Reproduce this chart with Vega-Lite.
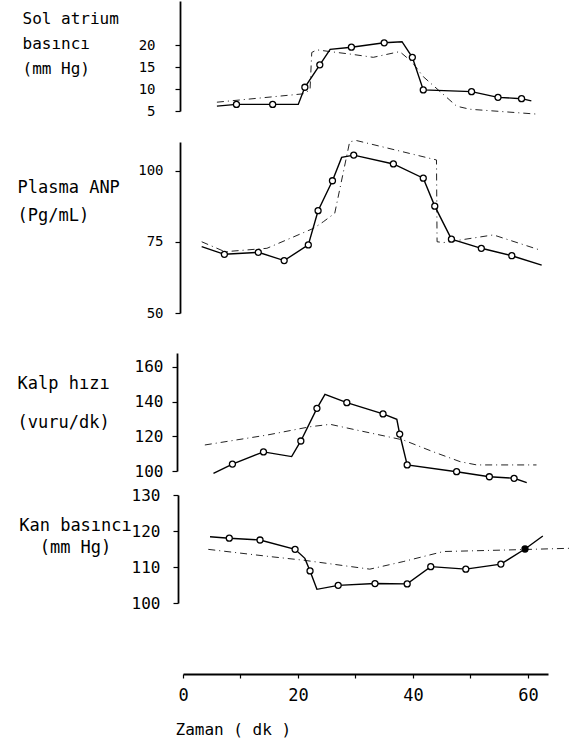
{
  "$schema": "https://vega.github.io/schema/vega-lite/v6.json",
  "width": 365,
  "height": 674,
  "autosize": {"type": "none"},
  "padding": {"left": 183, "top": 0, "right": 37, "bottom": 72},
  "background": "white",
  "config": {
    "view": {"stroke": null},
    "font": "DejaVu Sans Mono",
    "axis": {
      "labelFont": "DejaVu Sans Mono",
      "titleFont": "DejaVu Sans Mono",
      "domainColor": "black",
      "tickColor": "black",
      "labelColor": "black",
      "titleColor": "black",
      "grid": false,
      "domainWidth": 1.8,
      "tickWidth": 1.2,
      "titleFontWeight": "normal",
      "labelFontWeight": "normal",
      "labelOverlap": false,
      "labelFlush": false
    }
  },
  "datasets": {
    "p1": [
      {"t": 5.9, "v": 6.1, "s": "a", "c": 0},
      {"t": 9.3, "v": 6.5, "s": "a", "c": 1},
      {"t": 15.6, "v": 6.5, "s": "a", "c": 1},
      {"t": 20.05, "v": 6.5, "s": "a", "c": 0},
      {"t": 21.2, "v": 10.4, "s": "a", "c": 1},
      {"t": 23.8, "v": 15.5, "s": "a", "c": 1},
      {"t": 25.6, "v": 19.0, "s": "a", "c": 0},
      {"t": 29.3, "v": 19.5, "s": "a", "c": 1},
      {"t": 35.0, "v": 20.5, "s": "a", "c": 1},
      {"t": 38.1, "v": 20.75, "s": "a", "c": 0},
      {"t": 39.9, "v": 17.2, "s": "a", "c": 1},
      {"t": 41.8, "v": 9.8, "s": "a", "c": 1},
      {"t": 50.2, "v": 9.4, "s": "a", "c": 1},
      {"t": 54.8, "v": 8.1, "s": "a", "c": 1},
      {"t": 58.9, "v": 7.8, "s": "a", "c": 1},
      {"t": 60.6, "v": 7.3, "s": "a", "c": 0},
      {"t": 5.9, "v": 7.0, "s": "b", "c": 0},
      {"t": 20.9, "v": 8.9, "s": "b", "c": 0},
      {"t": 22.1, "v": 9.8, "s": "b", "c": 0},
      {"t": 22.4, "v": 18.3, "s": "b", "c": 0},
      {"t": 23.3, "v": 18.9, "s": "b", "c": 0},
      {"t": 25.6, "v": 18.5, "s": "b", "c": 0},
      {"t": 29.3, "v": 17.9, "s": "b", "c": 0},
      {"t": 33.1, "v": 17.2, "s": "b", "c": 0},
      {"t": 37.7, "v": 18.5, "s": "b", "c": 0},
      {"t": 39.8, "v": 16.2, "s": "b", "c": 0},
      {"t": 41.8, "v": 12.8, "s": "b", "c": 0},
      {"t": 47.6, "v": 6.1, "s": "b", "c": 0},
      {"t": 49.9, "v": 5.4, "s": "b", "c": 0},
      {"t": 61.5, "v": 4.3, "s": "b", "c": 0}
    ],
    "p2": [
      {"t": 3.25, "v": 73.3, "s": "a", "c": 0},
      {"t": 7.2, "v": 70.6, "s": "a", "c": 1},
      {"t": 13.1, "v": 71.3, "s": "a", "c": 1},
      {"t": 17.6, "v": 68.4, "s": "a", "c": 1},
      {"t": 21.8, "v": 73.9, "s": "a", "c": 1},
      {"t": 23.5, "v": 85.9, "s": "a", "c": 1},
      {"t": 26.0, "v": 96.4, "s": "a", "c": 1},
      {"t": 27.6, "v": 104.6, "s": "a", "c": 0},
      {"t": 29.7, "v": 105.4, "s": "a", "c": 1},
      {"t": 36.6, "v": 102.3, "s": "a", "c": 1},
      {"t": 41.8, "v": 97.3, "s": "a", "c": 1},
      {"t": 43.8, "v": 87.5, "s": "a", "c": 1},
      {"t": 46.7, "v": 75.9, "s": "a", "c": 1},
      {"t": 51.9, "v": 72.7, "s": "a", "c": 1},
      {"t": 57.2, "v": 70.1, "s": "a", "c": 1},
      {"t": 62.4, "v": 66.8, "s": "a", "c": 0},
      {"t": 3.25, "v": 75.0, "s": "b", "c": 0},
      {"t": 7.3, "v": 71.5, "s": "b", "c": 0},
      {"t": 14.6, "v": 72.7, "s": "b", "c": 0},
      {"t": 22.7, "v": 79.7, "s": "b", "c": 0},
      {"t": 24.4, "v": 82.0, "s": "b", "c": 0},
      {"t": 26.4, "v": 85.0, "s": "b", "c": 0},
      {"t": 29.0, "v": 110.1, "s": "b", "c": 0},
      {"t": 30.2, "v": 110.5, "s": "b", "c": 0},
      {"t": 44.1, "v": 103.7, "s": "b", "c": 0},
      {"t": 44.2, "v": 75.0, "s": "b", "c": 0},
      {"t": 45.3, "v": 74.7, "s": "b", "c": 0},
      {"t": 54.0, "v": 77.4, "s": "b", "c": 0},
      {"t": 62.4, "v": 71.9, "s": "b", "c": 0}
    ],
    "p3": [
      {"t": 5.3, "v": 98.7, "s": "a", "c": 0},
      {"t": 8.6, "v": 104.0, "s": "a", "c": 1},
      {"t": 14.0, "v": 111.0, "s": "a", "c": 1},
      {"t": 18.9, "v": 108.3, "s": "a", "c": 0},
      {"t": 20.5, "v": 117.3, "s": "a", "c": 1},
      {"t": 23.3, "v": 136.1, "s": "a", "c": 1},
      {"t": 24.7, "v": 144.2, "s": "a", "c": 0},
      {"t": 28.5, "v": 139.4, "s": "a", "c": 1},
      {"t": 34.8, "v": 132.9, "s": "a", "c": 1},
      {"t": 37.2, "v": 129.8, "s": "a", "c": 0},
      {"t": 37.7, "v": 121.3, "s": "a", "c": 1},
      {"t": 39.0, "v": 103.5, "s": "a", "c": 1},
      {"t": 47.6, "v": 99.6, "s": "a", "c": 1},
      {"t": 53.3, "v": 96.7, "s": "a", "c": 1},
      {"t": 57.6, "v": 95.8, "s": "a", "c": 1},
      {"t": 59.8, "v": 93.3, "s": "a", "c": 0},
      {"t": 3.8, "v": 115.0, "s": "b", "c": 0},
      {"t": 14.6, "v": 120.7, "s": "b", "c": 0},
      {"t": 22.1, "v": 125.5, "s": "b", "c": 0},
      {"t": 25.6, "v": 126.9, "s": "b", "c": 0},
      {"t": 30.2, "v": 123.6, "s": "b", "c": 0},
      {"t": 38.3, "v": 117.9, "s": "b", "c": 0},
      {"t": 43.5, "v": 111.1, "s": "b", "c": 0},
      {"t": 48.2, "v": 105.4, "s": "b", "c": 0},
      {"t": 51.1, "v": 103.5, "s": "b", "c": 0},
      {"t": 61.5, "v": 103.5, "s": "b", "c": 0}
    ],
    "p4": [
      {"t": 4.7, "v": 118.4, "s": "a", "c": 0},
      {"t": 8.05, "v": 118.0, "s": "a", "c": 1},
      {"t": 13.4, "v": 117.5, "s": "a", "c": 1},
      {"t": 19.5, "v": 114.9, "s": "a", "c": 1},
      {"t": 21.2, "v": 112.4, "s": "a", "c": 0},
      {"t": 22.1, "v": 108.9, "s": "a", "c": 1},
      {"t": 23.3, "v": 103.8, "s": "a", "c": 0},
      {"t": 27.0, "v": 104.9, "s": "a", "c": 1},
      {"t": 33.4, "v": 105.4, "s": "a", "c": 1},
      {"t": 39.0, "v": 105.3, "s": "a", "c": 1},
      {"t": 43.1, "v": 110.1, "s": "a", "c": 1},
      {"t": 49.2, "v": 109.4, "s": "a", "c": 1},
      {"t": 55.3, "v": 110.8, "s": "a", "c": 1},
      {"t": 59.5, "v": 115.0, "s": "a", "c": 2},
      {"t": 62.6, "v": 118.6, "s": "a", "c": 0},
      {"t": 4.4, "v": 114.9, "s": "b", "c": 0},
      {"t": 15.1, "v": 112.9, "s": "b", "c": 0},
      {"t": 20.9, "v": 111.9, "s": "b", "c": 0},
      {"t": 32.5, "v": 109.4, "s": "b", "c": 0},
      {"t": 38.3, "v": 111.5, "s": "b", "c": 0},
      {"t": 45.3, "v": 114.3, "s": "b", "c": 0},
      {"t": 55.7, "v": 114.7, "s": "b", "c": 0},
      {"t": 67.3, "v": 115.2, "s": "b", "c": 0}
    ]
  },
  "encoding": {
    "x": {
      "field": "t",
      "type": "quantitative",
      "scale": {"domain": [0, 63.5], "nice": false, "zero": false},
      "axis": {
        "values": [0, 10, 20, 30, 40, 50, 60],
        "labelExpr": "datum.value % 20 === 0 ? datum.label : ''",
        "tickSize": 4,
        "labelPadding": 9,
        "labelFontSize": 17,
        "title": "Zaman ( dk )",
        "titleFontSize": 16,
        "titleX": -8,
        "titleY": 60,
        "titleAlign": "left",
        "titleAnchor": "start",
        "titleBaseline": "alphabetic"
      }
    }
  },
  "layer": [
    {
      "data": {"name": "p1"},
      "encoding": {
        "y": {
          "field": "v",
          "type": "quantitative",
          "scale": {"domain": [5, 30], "range": [111, 1], "nice": false, "zero": false},
          "axis": {
            "orient": "left", "values": [5, 10, 15, 20], "offset": 3, "tickSize": 5,
            "labelPadding": 20, "labelFontSize": 14,
            "title": ["Sol atrium", "basıncı", "(mm Hg)"],
            "titleAngle": 0, "titleAlign": "left", "titleBaseline": "alphabetic",
            "titleX": -158, "titleY": 23, "titleFontSize": 16, "titleLineHeight": 25
          }
        }
      },
      "layer": [
        {"transform": [{"filter": "datum.s == 'b'"}], "mark": {"type": "line", "color": "#222", "strokeWidth": 1, "strokeDash": [7, 4, 1, 4]}},
        {"transform": [{"filter": "datum.s == 'a'"}], "mark": {"type": "line", "color": "black", "strokeWidth": 1.4}},
        {"transform": [{"filter": "datum.c > 0"}], "mark": {"type": "point", "shape": "circle", "filled": true, "size": 36, "stroke": "black", "strokeWidth": 1.3, "opacity": 1},
          "encoding": {"fill": {"condition": {"test": "datum.c == 2", "value": "black"}, "value": "white"}}}
      ]
    },
    {
      "data": {"name": "p2"},
      "encoding": {
        "y": {
          "field": "v",
          "type": "quantitative",
          "scale": {"domain": [50, 110], "range": [313, 142], "nice": false, "zero": false},
          "axis": {
            "orient": "left", "values": [50, 75, 100], "offset": 3, "tickSize": 5,
            "labelPadding": 12, "labelFontSize": 14,
            "title": ["Plasma ANP", "(Pg/mL)"],
            "titleAngle": 0, "titleAlign": "left", "titleBaseline": "alphabetic",
            "titleX": -163, "titleY": 192, "titleFontSize": 17, "titleLineHeight": 28
          }
        }
      },
      "layer": [
        {"transform": [{"filter": "datum.s == 'b'"}], "mark": {"type": "line", "color": "#222", "strokeWidth": 1, "strokeDash": [7, 4, 1, 4]}},
        {"transform": [{"filter": "datum.s == 'a'"}], "mark": {"type": "line", "color": "black", "strokeWidth": 1.4}},
        {"transform": [{"filter": "datum.c > 0"}], "mark": {"type": "point", "shape": "circle", "filled": true, "size": 36, "stroke": "black", "strokeWidth": 1.3, "opacity": 1},
          "encoding": {"fill": {"condition": {"test": "datum.c == 2", "value": "black"}, "value": "white"}}}
      ]
    },
    {
      "data": {"name": "p3"},
      "encoding": {
        "y": {
          "field": "v",
          "type": "quantitative",
          "scale": {"domain": [100, 168], "range": [471, 353], "nice": false, "zero": false},
          "axis": {
            "orient": "left", "values": [100, 120, 140, 160], "offset": 6, "tickSize": 5,
            "labelPadding": 9, "labelFontSize": 16,
            "title": ["Kalp hızı", "(vuru/dk)"],
            "titleAngle": 0, "titleAlign": "left", "titleBaseline": "alphabetic",
            "titleX": -160, "titleY": 388, "titleFontSize": 17, "titleLineHeight": 39
          }
        }
      },
      "layer": [
        {"transform": [{"filter": "datum.s == 'b'"}], "mark": {"type": "line", "color": "#222", "strokeWidth": 1, "strokeDash": [7, 4, 1, 4]}},
        {"transform": [{"filter": "datum.s == 'a'"}], "mark": {"type": "line", "color": "black", "strokeWidth": 1.4}},
        {"transform": [{"filter": "datum.c > 0"}], "mark": {"type": "point", "shape": "circle", "filled": true, "size": 36, "stroke": "black", "strokeWidth": 1.3, "opacity": 1},
          "encoding": {"fill": {"condition": {"test": "datum.c == 2", "value": "black"}, "value": "white"}}}
      ]
    },
    {
      "data": {"name": "p4"},
      "encoding": {
        "y": {
          "field": "v",
          "type": "quantitative",
          "scale": {"domain": [100, 130], "range": [603, 495], "nice": false, "zero": false},
          "axis": {
            "orient": "left", "values": [100, 110, 120, 130], "offset": 5, "tickSize": 5,
            "labelPadding": 13, "labelFontSize": 16,
            "title": ["Kan basıncı", "(mm Hg)"],
            "titleAngle": 0, "titleAlign": "center", "titleBaseline": "alphabetic",
            "titleX": -103, "titleY": 530, "titleFontSize": 17, "titleLineHeight": 22
          }
        }
      },
      "layer": [
        {"transform": [{"filter": "datum.s == 'b'"}], "mark": {"type": "line", "color": "#222", "strokeWidth": 1, "strokeDash": [7, 4, 1, 4]}},
        {"transform": [{"filter": "datum.s == 'a'"}], "mark": {"type": "line", "color": "black", "strokeWidth": 1.4}},
        {"transform": [{"filter": "datum.c > 0"}], "mark": {"type": "point", "shape": "circle", "filled": true, "size": 36, "stroke": "black", "strokeWidth": 1.3, "opacity": 1},
          "encoding": {"fill": {"condition": {"test": "datum.c == 2", "value": "black"}, "value": "white"}}}
      ]
    }
  ],
  "resolve": {"scale": {"y": "independent"}, "axis": {"y": "independent"}}
}
